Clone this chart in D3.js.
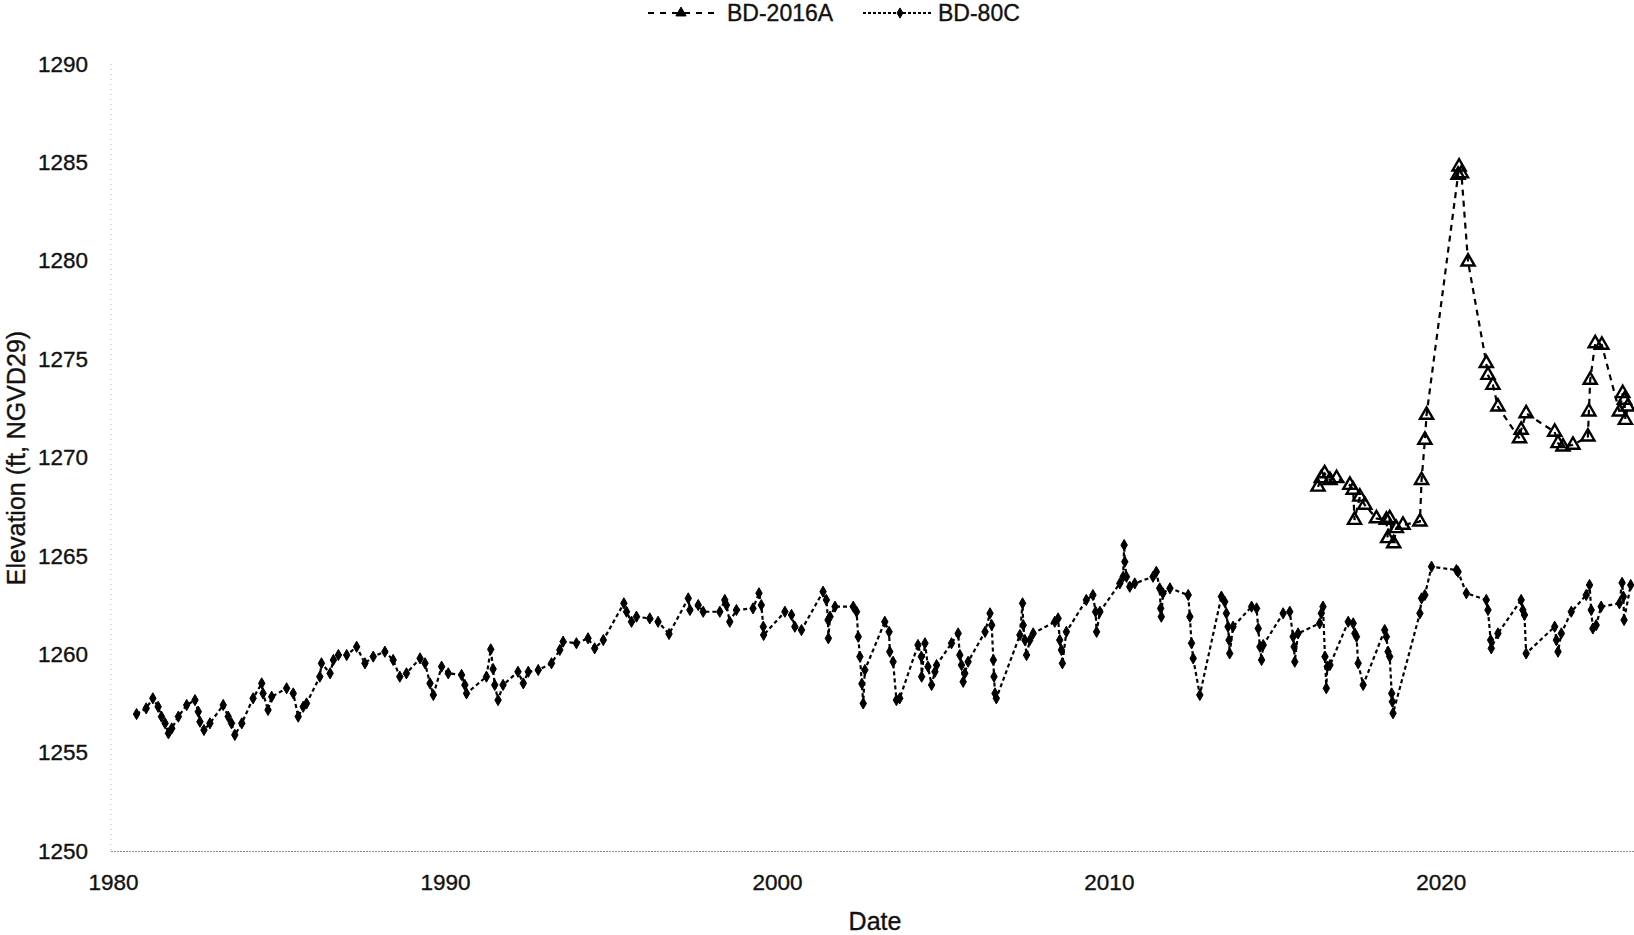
<!DOCTYPE html>
<html>
<head>
<meta charset="utf-8">
<script src="https://cdn.jsdelivr.net/npm/d3@7"></script>
<style>
	body { margin: 0; background: #fff; }
	svg { display: block; font-family: "Liberation Sans", Arial, sans-serif; }
	.axis text { font-size: 22.5px; fill: #111; stroke: #111; stroke-width: 0.35px; }
	.title { font-size: 25px; fill: #111; stroke: #111; stroke-width: 0.35px; }
	.legend text { font-size: 23px; fill: #111; stroke: #111; stroke-width: 0.35px; }
</style>
</head>
<body>
<svg id="chart" width="1634" height="935"></svg>
<script>
// BD-80C, decimal year / elevation (ft)
var bd80cYears = [
	1980.71, 1981.0, 1981.2, 1981.36, 1981.46, 1981.57, 1981.67, 1981.77, 1981.97, 1982.22,
	1982.47, 1982.57, 1982.62, 1982.74, 1982.92, 1983.32, 1983.47, 1983.57, 1983.67, 1983.88,
	1984.22, 1984.48, 1984.52, 1984.67, 1984.78, 1985.23, 1985.43, 1985.58, 1985.73, 1985.83,
	1986.23, 1986.28, 1986.54, 1986.64, 1986.79, 1987.04, 1987.34, 1987.59, 1987.84, 1988.19,
	1988.44, 1988.64, 1988.84, 1989.25, 1989.40, 1989.55, 1989.65, 1989.90, 1990.10, 1990.50,
	1990.60, 1990.65, 1991.25, 1991.38, 1991.45, 1991.5, 1991.6, 1991.75, 1992.2, 1992.36,
	1992.51, 1992.81, 1993.21, 1993.46, 1993.56, 1993.96, 1994.31, 1994.51, 1994.77, 1995.39,
	1995.47, 1995.62, 1995.77, 1996.17, 1996.42, 1996.75, 1997.33, 1997.38, 1997.63, 1997.78,
	1998.28, 1998.43, 1998.48, 1998.58, 1998.78, 1999.28, 1999.46, 1999.53, 1999.59, 1999.6,
	2000.24, 2000.44, 2000.54, 2000.74, 2001.39, 2001.49, 2001.54, 2001.55, 2001.6, 2001.75,
	2002.3, 2002.4, 2002.45, 2002.5, 2002.56, 2002.6, 2002.65, 2003.25, 2003.38, 2003.4,
	2003.5, 2003.6, 2003.7, 2004.25, 2004.35, 2004.36, 2004.46, 2004.55, 2004.66, 2004.76,
	2004.81, 2005.26, 2005.46, 2005.51, 2005.56, 2005.61, 2005.66, 2005.76, 2006.27, 2006.42,
	2006.47, 2006.52, 2006.54, 2006.57, 2006.61, 2007.32, 2007.40, 2007.42, 2007.47, 2007.52,
	2007.62, 2007.72, 2008.37, 2008.47, 2008.52, 2008.57, 2008.6, 2008.72, 2009.32, 2009.52,
	2009.6, 2009.63, 2009.73, 2010.33, 2010.43, 2010.46, 2010.48, 2010.53, 2010.63, 2010.78,
	2011.33, 2011.43, 2011.53, 2011.56, 2011.58, 2011.63, 2011.84, 2012.39, 2012.44, 2012.49,
	2012.54, 2012.74, 2013.39, 2013.49, 2013.54, 2013.59, 2013.62, 2013.64, 2013.74, 2014.3,
	2014.45, 2014.5, 2014.55, 2014.6, 2014.65, 2015.25, 2015.45, 2015.55, 2015.58, 2015.6,
	2015.7, 2016.35, 2016.4, 2016.45, 2016.51, 2016.55, 2016.58, 2016.66, 2017.21, 2017.36,
	2017.41, 2017.46, 2017.51, 2017.66, 2018.31, 2018.36, 2018.41, 2018.46, 2018.52, 2018.54,
	2018.56, 2019.37, 2019.42, 2019.52, 2019.72, 2020.47, 2020.52, 2020.77, 2021.37, 2021.42,
	2021.5, 2021.52, 2021.72, 2022.42, 2022.47, 2022.52, 2022.57, 2023.43, 2023.48, 2023.53,
	2023.63, 2023.93, 2024.38, 2024.48, 2024.53, 2024.58, 2024.68, 2024.83, 2025.38, 2025.46,
	2025.5, 2025.52, 2025.72
];
var bd80cValues = [
	1256.96, 1257.25, 1257.76, 1257.33, 1256.83, 1256.49, 1255.98, 1256.23, 1256.83, 1257.42,
	1257.67, 1257.08, 1256.57, 1256.15, 1256.49, 1257.42, 1256.83, 1256.49, 1255.9, 1256.49,
	1257.76, 1258.52, 1258.01, 1257.17, 1257.84, 1258.27, 1258.01, 1256.83, 1257.33, 1257.5,
	1258.86, 1259.54, 1259.03, 1259.71, 1259.96, 1259.96, 1260.38, 1259.54, 1259.88, 1260.13,
	1259.71, 1258.86, 1259.03, 1259.79, 1259.54, 1258.52, 1257.93, 1259.37, 1259.03, 1258.95,
	1258.44, 1258.01, 1258.86, 1260.25, 1259.25, 1258.44, 1257.67, 1258.44, 1259.11, 1258.52,
	1259.11, 1259.2, 1259.54, 1260.22, 1260.64, 1260.56, 1260.81, 1260.3, 1260.72, 1262.59,
	1262.16, 1261.65, 1261.91, 1261.82, 1261.65, 1261.03, 1262.84, 1262.25, 1262.5, 1262.16,
	1262.16, 1262.76, 1262.5, 1261.65, 1262.25, 1262.33, 1263.1, 1262.5, 1261.4, 1260.98,
	1262.16, 1262.0, 1261.4, 1261.23, 1263.18, 1262.76, 1261.74, 1260.81, 1261.91, 1262.42,
	1262.42, 1262.16, 1260.89, 1259.88, 1258.5, 1257.5, 1259.2, 1261.65, 1261.14, 1260.13,
	1259.62, 1257.67, 1257.76, 1260.47, 1259.88, 1258.86, 1260.56, 1259.37, 1258.44, 1259.11,
	1259.45, 1260.56, 1261.06, 1259.96, 1259.45, 1258.6, 1259.03, 1259.62, 1261.14, 1262.08,
	1261.48, 1259.71, 1258.86, 1258.01, 1257.76, 1260.98, 1262.59, 1261.48, 1260.72, 1259.96,
	1260.72, 1261.06, 1261.65, 1261.82, 1260.72, 1260.22, 1259.54, 1261.14, 1262.76, 1263.01,
	1262.16, 1261.14, 1262.16, 1263.6, 1263.94, 1265.55, 1264.7, 1263.94, 1263.43, 1263.6,
	1263.94, 1264.19, 1263.35, 1262.33, 1261.91, 1263.1, 1263.35, 1263.01, 1261.91, 1260.56,
	1259.79, 1257.93, 1262.93, 1262.67, 1262.08, 1261.4, 1260.72, 1260.04, 1261.4, 1262.42,
	1262.33, 1261.31, 1260.38, 1259.71, 1260.47, 1262.08, 1262.16, 1260.89, 1260.38, 1259.62,
	1261.06, 1261.57, 1262.08, 1262.42, 1259.88, 1258.27, 1259.37, 1259.45, 1261.65, 1261.57,
	1261.06, 1260.89, 1259.54, 1258.44, 1261.23, 1260.89, 1260.13, 1259.88, 1258.01, 1257.59,
	1257.0, 1262.08, 1262.84, 1263.01, 1264.45, 1264.28, 1264.19, 1263.1, 1262.76, 1262.25,
	1260.72, 1260.3, 1261.06, 1262.76, 1262.25, 1262.0, 1260.04, 1261.4, 1260.72, 1260.13,
	1261.06, 1262.16, 1263.01, 1263.52, 1262.25, 1261.31, 1261.48, 1262.42, 1262.59, 1263.63,
	1262.93, 1261.74, 1263.52
];

// BD-2016A
var bd2016aYears = [
	2016.3, 2016.4, 2016.5, 2016.66, 2016.86, 2017.26, 2017.36, 2017.40, 2017.56, 2017.71,
	2018.06, 2018.36, 2018.40, 2018.46, 2018.58, 2018.66, 2018.86, 2019.37, 2019.42, 2019.52,
	2019.57, 2020.52, 2020.55, 2020.62, 2020.82, 2021.37, 2021.42, 2021.57, 2021.72, 2022.37,
	2022.42, 2022.57, 2023.43, 2023.53, 2023.68, 2023.98, 2024.43, 2024.46, 2024.5, 2024.65,
	2024.85, 2025.38, 2025.48, 2025.53, 2025.56, 2025.63
];
var bd2016aValues = [
	1268.51, 1268.94, 1269.19, 1268.85, 1268.94, 1268.6, 1268.35, 1266.82, 1268.0, 1267.59,
	1266.9, 1266.82, 1265.89, 1266.9, 1265.63, 1266.4, 1266.57, 1266.74, 1268.85, 1270.89,
	1272.16, 1284.36, 1284.78, 1284.44, 1279.95, 1274.79, 1274.19, 1273.68, 1272.58, 1270.97,
	1271.4, 1272.24, 1271.3, 1270.72, 1270.55, 1270.64, 1271.06, 1272.33, 1273.94, 1275.8,
	1275.72, 1272.33, 1273.26, 1272.92, 1271.9, 1272.58
];

var xTicks = [1980, 1990, 2000, 2010, 2020];
var yTicks = [1250, 1255, 1260, 1265, 1270, 1275, 1280, 1285, 1290];

var seriesList = [
	{ name: "BD-2016A", years: bd2016aYears, values: bd2016aValues, dash: "6,5", symbol: d3.symbolTriangle, size: 75, fill: "none" },
	{ name: "BD-80C", years: bd80cYears, values: bd80cValues, dash: "4,3", symbol: d3.symbolDiamond, size: 36, fill: "#000" }
];

var svg = d3.select("#chart");
var plotLeft = 113, plotRight = 1640, plotTop = 64, plotBottom = 851;

var xScale = d3.scaleLinear().domain([1980, 2026]).range([plotLeft, plotRight]);
var yScale = d3.scaleLinear().domain([1250, 1290]).range([plotBottom, plotTop]);

// faint dotted axis lines like in the scan
svg.append("line")
	.attr("x1", plotLeft - 2).attr("x2", 1634)
	.attr("y1", plotBottom + 0.5).attr("y2", plotBottom + 0.5)
	.attr("stroke", "#888").attr("stroke-dasharray", "2,1");
svg.append("line")
	.attr("x1", plotLeft - 2).attr("x2", plotLeft - 2)
	.attr("y1", plotTop).attr("y2", plotBottom)
	.attr("stroke", "#bbb").attr("stroke-dasharray", "1,4");

var xAxis = d3.axisBottom(xScale)
	.tickValues(xTicks)
	.tickFormat(d3.format("d"))
	.tickSize(0)
	.tickPadding(23);
svg.append("g")
	.attr("class", "axis x")
	.attr("transform", "translate(0," + plotBottom + ")")
	.call(xAxis)
	.call(function(g){ g.select(".domain").remove(); });

var yAxis = d3.axisLeft(yScale)
	.tickValues(yTicks)
	.tickFormat(d3.format("d"))
	.tickSize(0)
	.tickPadding(23);
svg.append("g")
	.attr("class", "axis y")
	.attr("transform", "translate(" + (plotLeft - 2) + ",0)")
	.call(yAxis)
	.call(function(g){ g.select(".domain").remove(); });

svg.selectAll(".axis").attr("font-family", null).attr("font-size", null);

// axis titles
svg.append("text")
	.attr("class", "title")
	.attr("x", 875).attr("y", 930)
	.attr("text-anchor", "middle")
	.text("Date");
svg.append("text")
	.attr("class", "title")
	.attr("transform", "translate(25,458) rotate(-90)")
	.attr("text-anchor", "middle")
	.text("Elevation (ft, NGVD29)");

// series
var plot = svg.append("g");
seriesList.forEach(function(s){
	var pts = s.years.map(function(y, i){ return [y, s.values[i]]; });
	var line = d3.line()
		.x(function(d){ return xScale(d[0]); })
		.y(function(d){ return yScale(d[1]); });
	plot.append("path")
		.datum(pts)
		.attr("fill", "none")
		.attr("stroke", "#000")
		.attr("stroke-width", 2.2)
		.attr("stroke-dasharray", s.dash)
		.attr("d", line);
	plot.append("g").selectAll("path")
		.data(pts).enter()
		.append("path")
		.attr("d", d3.symbol().type(s.symbol).size(s.size))
		.attr("transform", function(d){
			return "translate(" + xScale(d[0]) + "," + yScale(d[1]) + ")";
		})
		.attr("fill", s.fill)
		.attr("stroke", "#000")
		.attr("stroke-width", s.fill === "none" ? 2.4 : 1);
});

// legend
var legendItems = [
	{ x1: 648, x2: 716, mx: 681, tx: 727 },
	{ x1: 863, x2: 933, mx: 900, tx: 938 }
];
var legend = svg.append("g").attr("class", "legend");
seriesList.forEach(function(s, i){
	var it = legendItems[i];
	var ly = 13;
	legend.append("line")
		.attr("x1", it.x1).attr("x2", it.x2)
		.attr("y1", ly).attr("y2", ly)
		.attr("stroke", "#000").attr("stroke-width", 2)
		.attr("stroke-dasharray", i === 0 ? "6,6" : "3,2");
	legend.append("path")
		.attr("d", d3.symbol().type(s.symbol).size(i === 0 ? 45 : 30))
		.attr("transform", "translate(" + it.mx + "," + ly + ")")
		.attr("fill", "#000").attr("stroke", "#000").attr("stroke-width", 1);
	legend.append("text")
		.attr("x", it.tx).attr("y", ly)
		.attr("dy", "0.36em")
		.text(s.name);
});
</script>
</body>
</html>
